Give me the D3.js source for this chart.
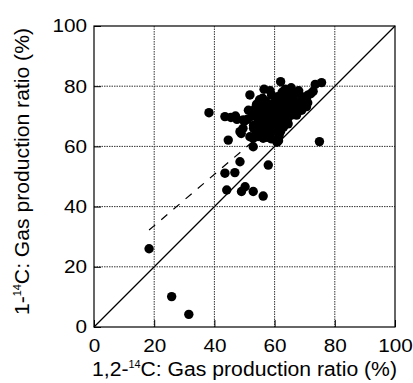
<!DOCTYPE html>
<html><head><meta charset="utf-8">
<script src="https://cdn.jsdelivr.net/npm/d3@7"></script>
<style>body{margin:0;background:#fff}svg{display:block}text{font-family:"Liberation Sans",Arial,sans-serif;fill:#000}</style>
</head><body><svg id="c" width="413" height="383"></svg>
<script>
const xTicks = [0,20,40,60,80,100];
const yTicks = [0,20,40,60,80,100];
const xs = [18.3,25.8,31.5,38.2,74.9,44.1,43.5,46.8,48.5,49,50.2,52.9,56.2,57.9,52.9,44.6,48.5,48.9,43.5,45.5,47,47.5,
 58.5,59,60.5,62,62.5,63.5,64.5,65,66,67,68,69,70,71,72,73.5,75.6,64,61,63,65.5,67.5,69.5,71,68,66.5,64.5,62,60,58,57,56,55,54,55.5,53.5,51.8,
 51.3,51,52.5,54,55.5,57,58.5,60,61.5,63,64.5,66,67,62.5,61,59,57.5,56,54.5,53,55,57,59,60.5,63,64.5,58,56,54,53,50,49.5,
 52.9,56.2,60.8,61.3,61.5,59,57.5,62,65,68.5,70.5,60,62.5,66,58,56.5,63.5,61,63.5,65.5,59.5,57.5,60.5,64,66.5,69,
 49.6,51.8,54.5,72.8,70.6,67.3];
const ys = [26,10.1,4.2,71.2,61.6,45.5,51.1,51.3,54.9,45,46.6,45,43.5,53.8,59.9,62.1,64.9,64.3,69.9,69.6,70.1,69,
 78.5,77,76,81.5,78,79,78.5,77,76,77.5,78.5,76.5,75.5,77,77.5,80.6,81.2,75,74.5,73.5,74,74.5,73.5,74.5,72.5,72,72,72.5,73,74,75,76,75.5,74,73,72.5,77.1,
 72,69,70,70.5,71,71.5,72,70.5,70,70,69.5,70.5,71,68,67.5,68.5,68,68.5,68,67,66,66,65.5,65,66.5,67.5,64,64.5,64.5,66,68.5,66,
 62.7,62.7,61.4,61.9,63.5,62.5,63,65,71.5,73.5,75.5,67,75.5,73,70,79,72.5,76.5,76.5,79.5,74,70,69,71.5,74.5,72,
 68.8,63.2,63.3,78.3,73.2,70.4];
const dashedX = [18.3,75];
const dashedY = [32.2,80.6];

const svg = d3.select("#c");
const L=94,R=395,T=26,B=327;
const x = d3.scaleLinear().domain([0,100]).range([L,R]);
const y = d3.scaleLinear().domain([0,100]).range([B,T]);
const FONT = '"Liberation Sans",Arial,sans-serif';

// grid
const g = svg.append("g");
xTicks.slice(1,-1).forEach(v=>{
  g.append("line").attr("x1",x(v)).attr("x2",x(v)).attr("y1",T).attr("y2",B)
   .attr("stroke","#333").attr("stroke-width",1).attr("stroke-dasharray","1.5,1");
});
yTicks.slice(1,-1).forEach(v=>{
  g.append("line").attr("x1",L).attr("x2",R).attr("y1",y(v)).attr("y2",y(v))
   .attr("stroke","#333").attr("stroke-width",1).attr("stroke-dasharray","1.5,1");
});

// axes with inward ticks
const xa = svg.append("g").attr("transform",`translate(0,${B})`)
  .call(d3.axisBottom(x).tickValues(xTicks).tickSizeInner(-7).tickSizeOuter(0).tickPadding(14));
const ya = svg.append("g").attr("transform",`translate(${L},0)`)
  .call(d3.axisLeft(y).tickValues(yTicks).tickSizeInner(-7).tickSizeOuter(0).tickPadding(0));
[xa,ya].forEach(a=>{
  a.select(".domain").remove();
  a.selectAll("line").attr("stroke","#000");
  a.selectAll("text").style("font-size","18.5px").style("font-family",FONT).attr("fill","#000");
});
xa.selectAll("text").attr("dy","0.6em").attr("transform","scale(1.12,1)");
ya.selectAll("text").attr("x",0).attr("transform","translate(-7,0) scale(1.12,1)");

// frame
svg.append("rect").attr("x",L).attr("y",T).attr("width",R-L).attr("height",B-T)
  .attr("fill","none").attr("stroke","#000").attr("stroke-width",1.2);

// diagonal
svg.append("line").attr("x1",x(0)).attr("y1",y(0)).attr("x2",x(100)).attr("y2",y(100))
  .attr("stroke","#000").attr("stroke-width",1.3);
// dashed
svg.append("line").attr("x1",x(dashedX[0])).attr("y1",y(dashedY[0])).attr("x2",x(dashedX[1])).attr("y2",y(dashedY[1]))
  .attr("stroke","#000").attr("stroke-width",1.2).attr("stroke-dasharray","8,8");

// points
svg.append("g").selectAll("circle").data(xs.map((v,i)=>[v,ys[i]])).join("circle")
  .attr("cx",d=>x(d[0])).attr("cy",d=>y(d[1])).attr("r",4.7).attr("fill","#000");

// titles
function title(sel, pre){
  sel.append("tspan").text(pre);
  sel.append("tspan").text("14").style("font-size","10px").attr("dy","-8");
  sel.append("tspan").text("C: Gas production ratio (%)").attr("dy","8");
}
const xt = svg.append("text").attr("x",92).attr("y",376).style("font-size","19.5px")
  .attr("textLength",305).attr("lengthAdjust","spacingAndGlyphs");
title(xt,"1,2-");
const yt = svg.append("text").attr("transform",`translate(29,315) rotate(-90)`).style("font-size","19.5px")
  .attr("textLength",287).attr("lengthAdjust","spacingAndGlyphs");
title(yt,"1-");
</script></body></html>
